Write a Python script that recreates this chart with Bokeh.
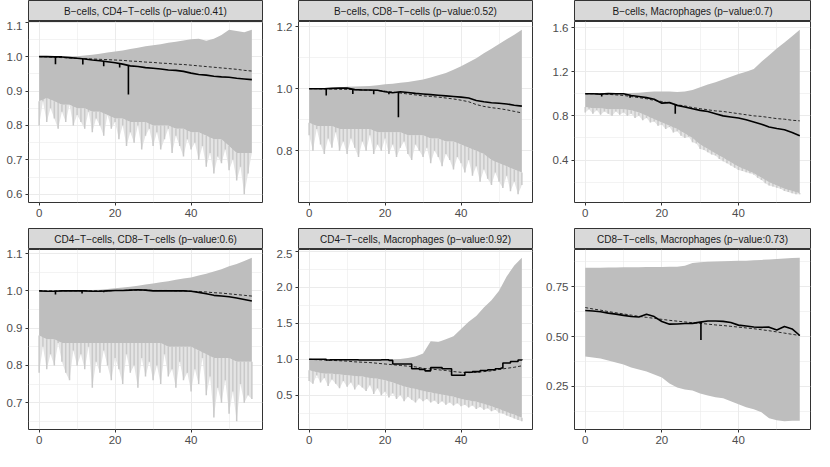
import numpy as np
from bokeh.plotting import figure
from bokeh.layouts import gridplot
from bokeh.models import Range1d, FixedTicker, PrintfTickFormatter, Label
from bokeh.embed import file_html
from bokeh.resources import INLINE

# ---------------- data ----------------
X2 = list(range(0, 57, 2))   # grid for bands / lines
X1 = list(range(0, 57))      # grid for the jagged lower tips

TITLES = [
    "B\u2212cells, CD4\u2212T\u2212cells (p\u2212value:0.41)",
    "B\u2212cells, CD8\u2212T\u2212cells (p\u2212value:0.52)",
    "B\u2212cells, Macrophages (p\u2212value:0.7)",
    "CD4\u2212T\u2212cells, CD8\u2212T\u2212cells (p\u2212value:0.6)",
    "CD4\u2212T\u2212cells, Macrophages (p\u2212value:0.92)",
    "CD8\u2212T\u2212cells, Macrophages (p\u2212value:0.73)",
]

X_TICKS = [0, 20, 40]
X_MINOR = [10, 30, 50]

Y_TICKS = [
    [0.6, 0.7, 0.8, 0.9, 1.0, 1.1],
    [0.8, 1.0, 1.2],
    [0.4, 0.8, 1.2, 1.6],
    [0.7, 0.8, 0.9, 1.0, 1.1],
    [0.5, 1.0, 1.5, 2.0, 2.5],
    [0.25, 0.50, 0.75],
]
Y_MINOR = [
    [0.65, 0.75, 0.85, 0.95, 1.05],
    [0.7, 0.9, 1.1],
    [0.2, 0.6, 1.0, 1.4],
    [0.65, 0.75, 0.85, 0.95, 1.05],
    [0.25, 0.75, 1.25, 1.75, 2.25],
    [0.125, 0.375, 0.625, 0.875],
]
Y_FORMATS = ["%.1f", "%.1f", "%.1f", "%.1f", "%.1f", "%.2f"]

# Panel 1: B-cells, CD4-T-cells
P1_UPPER = [1.0, 1.0, 1.0, 1.0, 1.0, 1.001, 1.003, 1.005, 1.008, 1.012,
            1.015, 1.018, 1.022, 1.026, 1.030, 1.033, 1.036, 1.040, 1.043, 1.047,
            1.050, 1.052, 1.046, 1.052, 1.063, 1.078, 1.074, 1.071, 1.078]
P1_CORE = [0.87, 0.88, 0.87, 0.86, 0.86, 0.85, 0.85, 0.84, 0.84, 0.83,
           0.82, 0.82, 0.81, 0.81, 0.81, 0.80, 0.80, 0.80, 0.79, 0.79,
           0.78, 0.78, 0.77, 0.76, 0.76, 0.74, 0.72, 0.72, 0.72]
P1_TIP = [0.80, 0.87, 0.81, 0.85, 0.82, 0.79, 0.84, 0.81, 0.86, 0.80, 0.83,
          0.81, 0.79, 0.84, 0.78, 0.82, 0.80, 0.77, 0.83, 0.79, 0.81,
          0.76, 0.80, 0.74, 0.78, 0.75, 0.80, 0.73, 0.77, 0.79, 0.74,
          0.78, 0.73, 0.76, 0.79, 0.72, 0.77, 0.74, 0.71, 0.76, 0.73,
          0.75, 0.70, 0.74, 0.68, 0.72, 0.66, 0.71, 0.69, 0.73, 0.67,
          0.70, 0.64, 0.68, 0.60, 0.66, 0.72]
P1_SOLID = [1.0, 1.0, 0.999, 0.999, 0.997, 0.995, 0.993, 0.990, 0.988, 0.985,
            0.982, 0.978, 0.973, 0.971, 0.968, 0.966, 0.964, 0.961, 0.960, 0.957,
            0.952, 0.948, 0.946, 0.943, 0.941, 0.940, 0.937, 0.935, 0.933]
P1_DASHED = [1.0, 0.999, 0.998, 0.997, 0.996, 0.995, 0.994, 0.993, 0.992, 0.991,
             0.990, 0.989, 0.987, 0.986, 0.984, 0.983, 0.981, 0.980, 0.978, 0.977,
             0.975, 0.973, 0.971, 0.969, 0.967, 0.965, 0.963, 0.960, 0.958]
P1_SPIKE_X = [4.3, 11.5, 17.0, 21.2, 23.5]
P1_SPIKE_Y = [0.978, 0.977, 0.972, 0.968, 0.890]

# Panel 2: B-cells, CD8-T-cells
P2_UPPER = [1.0, 1.001, 1.002, 1.003, 1.004, 1.006, 1.007, 1.008, 1.009, 1.011,
            1.014, 1.016, 1.019, 1.022, 1.026, 1.030, 1.036, 1.043, 1.051, 1.061,
            1.072, 1.085, 1.098, 1.114, 1.129, 1.144, 1.159, 1.174, 1.190]
P2_CORE = [0.89, 0.88, 0.88, 0.88, 0.87, 0.87, 0.87, 0.87, 0.87, 0.86,
           0.86, 0.86, 0.86, 0.85, 0.85, 0.85, 0.84, 0.84, 0.83, 0.83,
           0.82, 0.81, 0.80, 0.79, 0.77, 0.76, 0.75, 0.74, 0.73]
P2_TIP = [0.85, 0.80, 0.87, 0.82, 0.79, 0.84, 0.81, 0.86, 0.80, 0.83, 0.79,
          0.84, 0.81, 0.78, 0.83, 0.80, 0.85, 0.79, 0.82, 0.80, 0.84,
          0.79, 0.82, 0.78, 0.81, 0.83, 0.79, 0.77, 0.82, 0.80, 0.78,
          0.81, 0.76, 0.80, 0.78, 0.75, 0.79, 0.77, 0.74, 0.78, 0.76,
          0.73, 0.77, 0.72, 0.75, 0.70, 0.74, 0.71, 0.69, 0.73, 0.70,
          0.68, 0.72, 0.67, 0.70, 0.66, 0.69]
P2_SOLID = [1.0, 1.0, 1.0, 1.001, 1.002, 1.002, 0.997, 0.996, 0.996, 0.995,
            0.990, 0.987, 0.990, 0.988, 0.985, 0.983, 0.981, 0.979, 0.977, 0.975,
            0.973, 0.970, 0.962, 0.958, 0.955, 0.953, 0.951, 0.947, 0.944]
P2_DASHED = [1.0, 1.0, 0.999, 0.999, 0.998, 0.998, 0.997, 0.996, 0.995, 0.994,
             0.992, 0.989, 0.986, 0.983, 0.980, 0.977, 0.975, 0.973, 0.970, 0.967,
             0.963, 0.958, 0.949, 0.943, 0.939, 0.936, 0.932, 0.927, 0.922]
P2_SPIKE_X = [4.5, 11.5, 17.0, 21.0, 23.5]
P2_SPIKE_Y = [0.978, 0.983, 0.982, 0.982, 0.908]

# Panel 3: B-cells, Macrophages
P3_UPPER = [1.0, 1.0, 1.005, 1.005, 1.003, 1.005, 1.007, 1.010, 1.015, 1.020,
            1.020, 1.020, 1.017, 1.020, 1.035, 1.060, 1.085, 1.105, 1.130, 1.155,
            1.180, 1.200, 1.225, 1.290, 1.350, 1.410, 1.465, 1.520, 1.580]
P3_CORE = [0.88, 0.87, 0.87, 0.86, 0.86, 0.86, 0.85, 0.83, 0.80, 0.77,
           0.74, 0.71, 0.68, 0.64, 0.60, 0.54, 0.50, 0.46, 0.42, 0.38,
           0.34, 0.31, 0.28, 0.24, 0.20, 0.17, 0.14, 0.12, 0.10]
P3_TIP = [0.83, 0.86, 0.82, 0.85, 0.81, 0.84, 0.82, 0.80, 0.84, 0.81, 0.83,
          0.80, 0.82, 0.78, 0.80, 0.76, 0.78, 0.74, 0.75, 0.71, 0.72,
          0.68, 0.70, 0.65, 0.66, 0.62, 0.60, 0.61, 0.56, 0.55, 0.50,
          0.49, 0.47, 0.45, 0.44, 0.41, 0.39, 0.37, 0.35, 0.33, 0.31,
          0.30, 0.29, 0.28, 0.27, 0.24, 0.22, 0.19, 0.17, 0.16, 0.15,
          0.14, 0.12, 0.11, 0.10, 0.09, 0.09]
P3_SOLID = [1.0, 1.0, 0.997, 1.002, 1.0, 1.0, 0.985, 0.975, 0.965, 0.950,
            0.915, 0.920, 0.895, 0.880, 0.865, 0.850, 0.840, 0.820, 0.800, 0.790,
            0.780, 0.765, 0.745, 0.725, 0.700, 0.685, 0.675, 0.650, 0.620]
P3_DASHED = [1.0, 1.0, 0.998, 0.995, 0.990, 0.985, 0.975, 0.965, 0.955, 0.940,
             0.930, 0.915, 0.900, 0.890, 0.875, 0.865, 0.855, 0.845, 0.840, 0.830,
             0.820, 0.810, 0.800, 0.795, 0.785, 0.775, 0.770, 0.760, 0.755]
P3_SPIKE_X = [4.3, 11.7, 23.5]
P3_SPIKE_Y = [0.975, 0.965, 0.820]

# Panel 4: CD4-T-cells, CD8-T-cells
P4_UPPER = [1.0, 1.0, 1.0, 1.0, 1.0, 1.0, 1.001, 1.002, 1.003, 1.005,
            1.007, 1.009, 1.011, 1.014, 1.017, 1.020, 1.023, 1.026, 1.030, 1.033,
            1.036, 1.041, 1.046, 1.052, 1.058, 1.066, 1.072, 1.080, 1.089]
P4_CORE = [0.88, 0.87, 0.87, 0.86, 0.86, 0.86, 0.86, 0.86, 0.86, 0.86,
           0.86, 0.86, 0.86, 0.86, 0.86, 0.86, 0.86, 0.85, 0.85, 0.85,
           0.85, 0.84, 0.83, 0.82, 0.82, 0.82, 0.81, 0.81, 0.81]
P4_TIP = [0.78, 0.85, 0.79, 0.83, 0.80, 0.86, 0.81, 0.78, 0.76, 0.84, 0.80,
          0.83, 0.79, 0.85, 0.74, 0.81, 0.78, 0.84, 0.80, 0.76, 0.82,
          0.79, 0.75, 0.83, 0.78, 0.80, 0.74, 0.82, 0.77, 0.81, 0.76,
          0.80, 0.75, 0.83, 0.77, 0.79, 0.74, 0.81, 0.76, 0.78, 0.73,
          0.79, 0.75, 0.82, 0.72, 0.77, 0.66, 0.74, 0.70, 0.76, 0.67,
          0.73, 0.65, 0.75, 0.70, 0.72, 0.71]
P4_SOLID = [1.0, 0.999, 0.999, 1.0, 1.0, 1.0, 1.0, 0.999, 0.999, 1.0,
            1.001, 1.001, 1.002, 1.003, 1.002, 1.0, 1.0, 1.0, 1.0, 1.0,
            0.999, 0.996, 0.992, 0.988, 0.986, 0.984, 0.981, 0.977, 0.973]
P4_DASHED = [1.0, 1.0, 1.0, 1.0, 1.0, 1.0, 1.0, 1.0, 1.0, 1.0,
             1.001, 1.001, 1.002, 1.002, 1.002, 1.001, 1.001, 1.001, 1.0, 1.0,
             0.999, 0.998, 0.997, 0.995, 0.994, 0.992, 0.990, 0.988, 0.986]
P4_SPIKE_X = [4.3, 11.3, 17.0]
P4_SPIKE_Y = [0.990, 0.993, 0.996]

# Panel 5: CD4-T-cells, Macrophages (solid line is a step curve)
P5_UPPER = [1.0, 1.0, 1.0, 1.0, 1.0, 1.0, 1.0, 1.0, 1.0, 1.0,
            1.0, 1.0, 1.005, 1.02, 1.04, 1.08, 1.25, 1.24, 1.28, 1.32,
            1.42, 1.52, 1.60, 1.72, 1.82, 1.95, 2.15, 2.30, 2.41]
P5_CORE = [0.85, 0.82, 0.80, 0.80, 0.79, 0.78, 0.77, 0.76, 0.74, 0.73,
           0.71, 0.68, 0.64, 0.61, 0.59, 0.56, 0.54, 0.52, 0.50, 0.48,
           0.45, 0.43, 0.41, 0.38, 0.35, 0.31, 0.27, 0.23, 0.19]
P5_TIP = [0.70, 0.66, 0.78, 0.68, 0.74, 0.63, 0.72, 0.66, 0.60, 0.70, 0.62,
          0.68, 0.58, 0.65, 0.61, 0.56, 0.64, 0.52, 0.60, 0.50, 0.55,
          0.47, 0.53, 0.45, 0.50, 0.42, 0.48, 0.44, 0.40, 0.46, 0.42,
          0.45, 0.40, 0.43, 0.38, 0.42, 0.37, 0.40, 0.36, 0.39, 0.35,
          0.37, 0.33, 0.36, 0.31, 0.34, 0.30, 0.32, 0.28, 0.30, 0.26,
          0.25, 0.22, 0.20, 0.18, 0.16, 0.14]
P5_STEP_X = [0, 4.5, 5.5, 13, 19, 21, 22, 27, 29, 30.5, 32, 35,
             37.5, 39.5, 41, 43, 45, 47, 49, 50.5, 51, 53, 55, 56]
P5_STEP_Y = [1.0, 0.99, 0.995, 0.99, 0.995, 0.985, 0.935, 0.87, 0.86, 0.84, 0.885, 0.87,
             0.78, 0.78, 0.82, 0.83, 0.845, 0.855, 0.87, 0.88, 0.95, 0.97, 0.99, 1.0]
P5_DASHED = [1.0, 0.995, 0.99, 0.985, 0.98, 0.975, 0.965, 0.96, 0.955, 0.945,
             0.935, 0.925, 0.915, 0.905, 0.895, 0.875, 0.865, 0.855, 0.845, 0.83,
             0.82, 0.815, 0.82, 0.83, 0.84, 0.86, 0.875, 0.89, 0.91]

# Panel 6: CD8-T-cells, Macrophages
P6_UPPER = [0.845, 0.845, 0.845, 0.846, 0.846, 0.847, 0.847, 0.847, 0.848, 0.848,
            0.848, 0.849, 0.850, 0.855, 0.868, 0.872, 0.874, 0.876, 0.877, 0.878,
            0.879, 0.880, 0.882, 0.884, 0.886, 0.888, 0.891, 0.893, 0.895]
P6_CORE = [0.400, 0.395, 0.390, 0.380, 0.370, 0.360, 0.345, 0.335, 0.325, 0.310,
           0.295, 0.265, 0.245, 0.235, 0.230, 0.215, 0.205, 0.195, 0.190, 0.175,
           0.160, 0.145, 0.135, 0.120, 0.090, 0.080, 0.075, 0.078, 0.078]
P6_SOLID = [0.630, 0.628, 0.624, 0.617, 0.612, 0.606, 0.600, 0.598, 0.612, 0.600,
            0.575, 0.562, 0.563, 0.565, 0.566, 0.572, 0.578, 0.578, 0.576, 0.570,
            0.557, 0.553, 0.548, 0.546, 0.547, 0.533, 0.550, 0.538, 0.505]
P6_DASHED = [0.645, 0.638, 0.632, 0.625, 0.619, 0.613, 0.607, 0.601, 0.596, 0.591,
             0.586, 0.581, 0.577, 0.573, 0.569, 0.566, 0.562, 0.558, 0.555, 0.551,
             0.547, 0.543, 0.539, 0.534, 0.529, 0.523, 0.517, 0.511, 0.505]
P6_SPIKE_X = [30.2]
P6_SPIKE_Y = [0.483]

PANELS = [
    dict(upper=P1_UPPER, core=P1_CORE, tip=P1_TIP, solid=P1_SOLID, dashed=P1_DASHED,
         sx=P1_SPIKE_X, sy=P1_SPIKE_Y),
    dict(upper=P2_UPPER, core=P2_CORE, tip=P2_TIP, solid=P2_SOLID, dashed=P2_DASHED,
         sx=P2_SPIKE_X, sy=P2_SPIKE_Y),
    dict(upper=P3_UPPER, core=P3_CORE, tip=P3_TIP, solid=P3_SOLID, dashed=P3_DASHED,
         sx=P3_SPIKE_X, sy=P3_SPIKE_Y),
    dict(upper=P4_UPPER, core=P4_CORE, tip=P4_TIP, solid=P4_SOLID, dashed=P4_DASHED,
         sx=P4_SPIKE_X, sy=P4_SPIKE_Y),
    dict(upper=P5_UPPER, core=P5_CORE, tip=P5_TIP, solid=None, dashed=P5_DASHED,
         sx=[], sy=[], step_x=P5_STEP_X, step_y=P5_STEP_Y),
    dict(upper=P6_UPPER, core=P6_CORE, tip=None, solid=P6_SOLID, dashed=P6_DASHED,
         sx=P6_SPIKE_X, sy=P6_SPIKE_Y),
]

# ---------------- layout / style ----------------
COL_W = [268, 270, 276]
COL_BL = [28, 30, 36]
COL_BR = [6, 6, 4]
FONT = "Liberation Sans"
RIBBON = "#BEBEBE"
RIBBON_HAZE = "#E4E4E4"
RIBBON_SPIKE = "#C9C9C9"
GRID = "#EBEBEB"
BORDER = "#333333"


def make_strip(title, col, top):
    s = figure(width=COL_W[col], height=21 + top, x_range=Range1d(0, 1), y_range=Range1d(0, 1),
               x_axis_location=None, y_axis_location=None, toolbar_location=None,
               output_backend="svg", title=None,
               min_border_left=COL_BL[col], min_border_right=COL_BR[col],
               min_border_top=top, min_border_bottom=0)
    s.grid.visible = False
    s.background_fill_color = "#D9D9D9"
    s.border_fill_color = "white"
    s.outline_line_color = BORDER
    s.outline_line_width = 1
    s.add_layout(Label(x=0.5, y=0.5, text=title, text_align="center", text_baseline="middle",
                       text_font=FONT, text_font_size="10px", text_color="#1A1A1A"))
    return s


def make_panel(i, col, height, bottom):
    d = PANELS[i]
    vals_lo = list(d["core"]) + list(d["sy"])
    if d["tip"] is not None:
        vals_lo += list(d["tip"])
    if d["solid"] is not None:
        vals_lo += list(d["solid"])
    else:
        vals_lo += list(d["step_y"])
    vals_hi = list(d["upper"])
    lo, hi = min(vals_lo), max(vals_hi)
    pad = (hi - lo) * 0.05
    xpad = 56 * 0.05

    p = figure(width=COL_W[col], height=height,
               x_range=Range1d(0 - xpad, 56 + xpad), y_range=Range1d(lo - pad, hi + pad),
               toolbar_location=None, output_backend="svg", title=None,
               min_border_left=COL_BL[col], min_border_right=COL_BR[col],
               min_border_top=0, min_border_bottom=bottom)
    p.background_fill_color = "white"
    p.border_fill_color = "white"
    p.outline_line_color = BORDER
    p.outline_line_width = 1

    xt = FixedTicker(ticks=X_TICKS, minor_ticks=X_MINOR)
    yt = FixedTicker(ticks=Y_TICKS[i], minor_ticks=Y_MINOR[i])
    p.xaxis.ticker = xt
    p.xgrid.ticker = xt
    p.yaxis.ticker = yt
    p.ygrid.ticker = yt
    p.yaxis.formatter = PrintfTickFormatter(format=Y_FORMATS[i])
    for g in (p.xgrid, p.ygrid):
        g.grid_line_color = GRID
        g.grid_line_width = 1
        g.minor_grid_line_color = GRID
        g.minor_grid_line_width = 0.6
    for ax in (p.xaxis, p.yaxis):
        ax.axis_line_color = None
        ax.major_tick_line_color = BORDER
        ax.major_tick_in = 0
        ax.major_tick_out = 3
        ax.minor_tick_line_color = None
        ax.major_label_text_font = FONT
        ax.major_label_text_font_size = "11.5px"
        ax.major_label_text_color = "#4D4D4D"
        ax.major_label_standoff = 2

    core = list(d["core"])
    if d["tip"] is not None:
        tip = list(d["tip"])
        # faint haze between the spike tips and the band
        p.patch(x=X1 + X2[::-1], y=tip + core[::-1],
                fill_color=RIBBON_HAZE, line_color=None)
        # thin vertical spikes hanging from the band
        tops = [core[j // 2] if j % 2 == 0 else max(core[j // 2], core[j // 2 + 1]) for j in X1]
        p.segment(x0=X1, y0=tip, x1=X1, y1=tops, line_color=RIBBON_SPIKE, line_width=1.5)
    # main ribbon
    p.varea(x=X2, y1=core, y2=d["upper"], fill_color=RIBBON)
    # dashed expected curve
    p.line(X2, d["dashed"], line_color="black", line_width=0.8, line_dash="3 2")
    # observed curve
    if d["solid"] is not None:
        p.line(X2, d["solid"], line_color="black", line_width=1.6)
        if len(d["sx"]):
            top = np.interp(d["sx"], X2, d["solid"])
            p.segment(x0=d["sx"], y0=top, x1=d["sx"], y1=d["sy"],
                      line_color="black", line_width=1.6)
    else:
        p.step(d["step_x"], d["step_y"], mode="after", line_color="black", line_width=1.6)
    return p


strips1 = [make_strip(TITLES[c], c, 0) for c in range(3)]
mains1 = [make_panel(c, c, 205, 24) for c in range(3)]
strips2 = [make_strip(TITLES[3 + c], c, 2) for c in range(3)]
mains2 = [make_panel(3 + c, c, 202, 22) for c in range(3)]

grid = gridplot([strips1, mains1, strips2, mains2], toolbar_location=None)

open("out.html", "w").write(file_html(grid, INLINE))
